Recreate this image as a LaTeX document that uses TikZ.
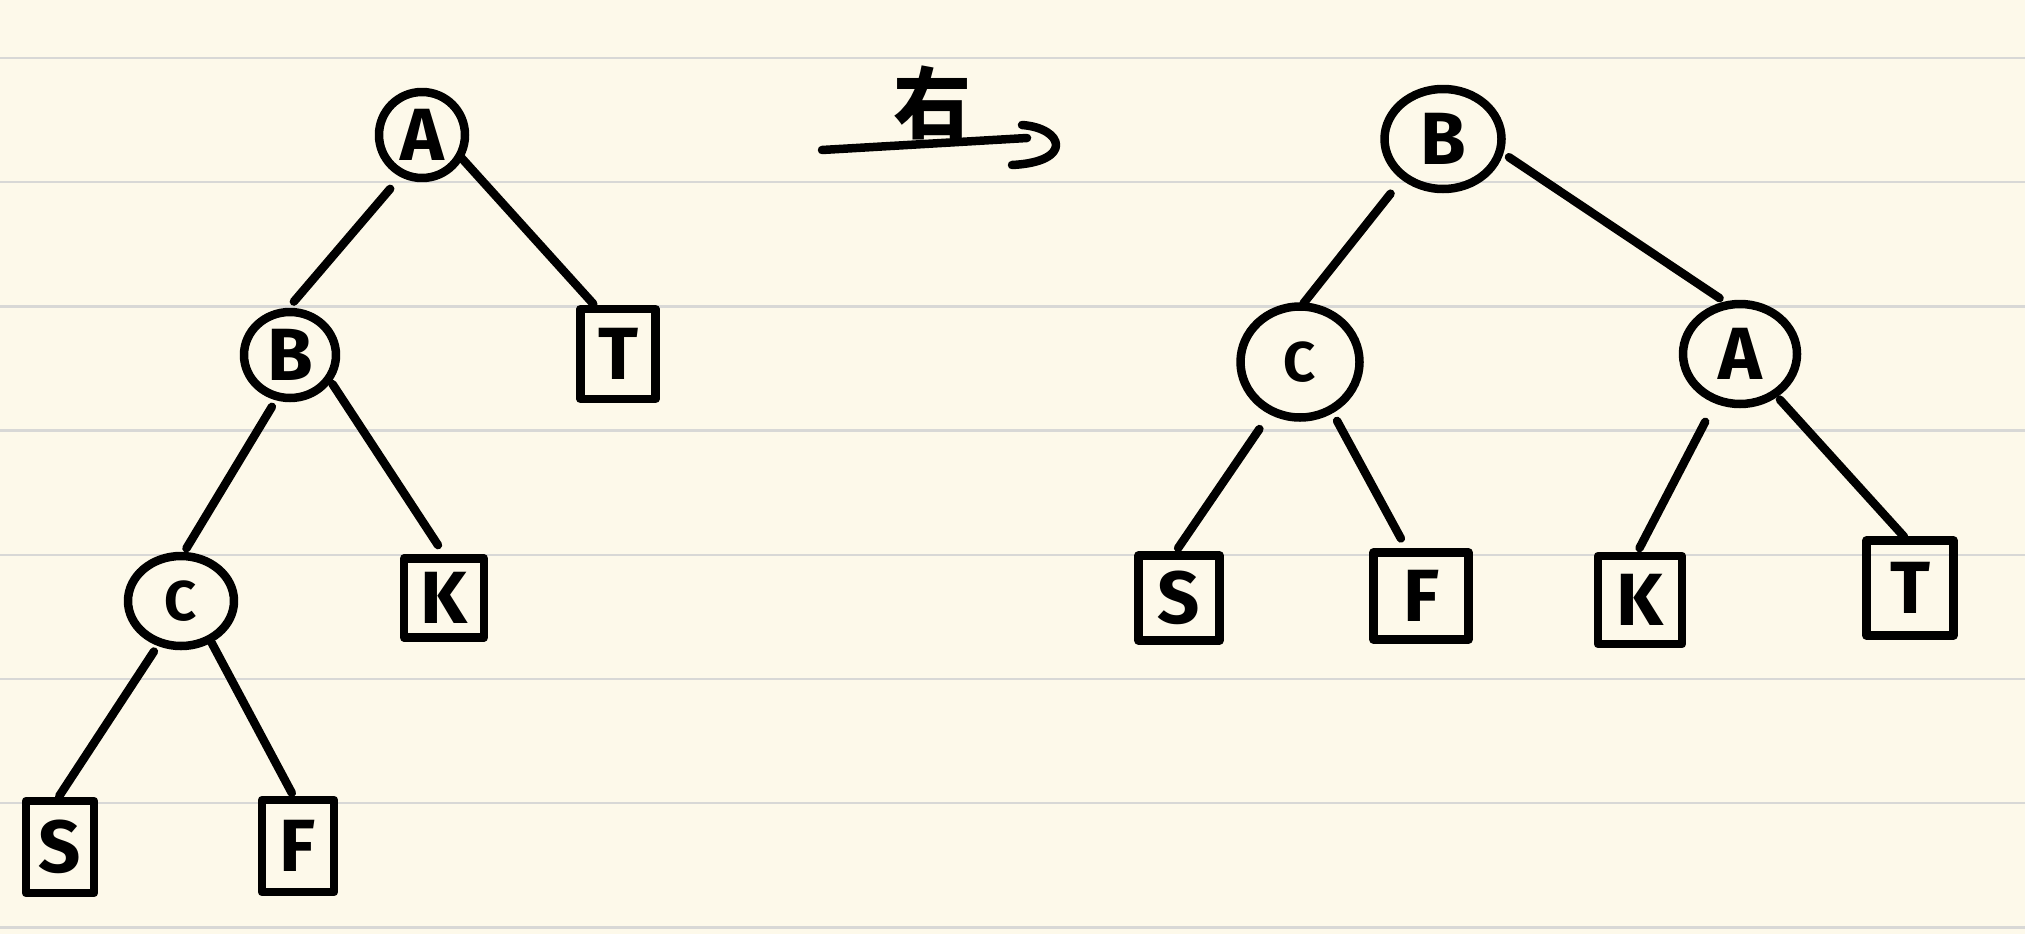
\documentclass[tikz,border=0pt]{standalone}
\usepackage{fontspec}
\newfontfamily\hand{Fira Sans}
\newfontfamily\cjk{Noto Sans CJK SC}
\usetikzlibrary{shapes.geometric}
\definecolor{paper}{HTML}{FDF9EA}
\definecolor{rulecol}{HTML}{D8D8D6}
\begin{document}
\begin{tikzpicture}[x=1pt,y=-1pt,
  ink/.style={line width=8.5pt, line cap=round, line join=round, draw=black},
  lettr/.style={font=\hand\bfseries\fontsize{74}{74}\selectfont},
  smallc/.style={font=\hand\bfseries\fontsize{56}{56}\selectfont},
  cnode/.style={ink, shape=ellipse, inner sep=0pt, outer sep=0pt, lettr},
  bnode/.style={ink, shape=rectangle, inner sep=0pt, outer sep=0pt, lettr},
  rulestyle/.style={draw=rulecol, line width=2.5pt}
]
\fill[paper] (0,0) rectangle (2025,934);
\useasboundingbox (0,0) rectangle (2025,934);
\foreach \yy in {58,182.2,306.4,430.6,554.8,679,803.2,927.4}
  \draw[rulestyle] (0,\yy) -- (2025,\yy);

% left tree
\node[cnode, minimum width=86pt, minimum height=86pt] (lA) at (422,135) {A};
\node[cnode, minimum width=92pt, minimum height=86pt] (lB) at (290,355) {B};
\node[cnode, minimum width=106pt, minimum height=90pt, smallc] (lC) at (181,601) {C};
\node[bnode, minimum width=75pt, minimum height=90pt] (lT) at (618,354) {T};
\node[bnode, minimum width=80pt, minimum height=79pt] (lK) at (444,598) {K};
\node[bnode, minimum width=68pt, minimum height=92pt] (lS) at (60,847) {S};
\node[bnode, minimum width=72pt, minimum height=92pt] (lF) at (298,846) {F};

\draw[ink, shorten <=20pt, shorten >=14pt] (lA.244) -- (lB.97);
\draw[ink, shorten <=3pt, shorten >=7pt] (lA.331) -- (lT.114);
\draw[ink, shorten <=12pt, shorten >=9pt] (lB.254) -- (lC.89);
\draw[ink, shorten <=7pt, shorten >=16pt] (lB.329) -- (lK.86);
\draw[ink, shorten <=11pt, shorten >=6pt] (lC.243) -- (lS.95);
\draw[ink, shorten <=5pt, shorten >=8pt] (lC.307) -- (lF.93);

% rotation arrow
\coordinate (ar0) at (822,150);
\coordinate (ar1) at (1027,138);
\coordinate (hk0) at (1022,125);
\coordinate (hk1) at (1012,165);
\draw[ink] (ar0) -- (ar1);
\draw[ink] (hk0) .. controls (1064,128) and (1074,162) .. (hk1);
\node[font=\cjk\bfseries\fontsize{78}{78}\selectfont] (lbl) at (932,103) {右};

% right tree
\node[cnode, minimum width=117pt, minimum height=100pt] (rB) at (1443,139) {B};
\node[cnode, minimum width=119pt, minimum height=111pt, smallc] (rC) at (1300,362) {C};
\node[cnode, minimum width=114pt, minimum height=100pt] (rA) at (1740,354) {A};
\node[bnode, minimum width=81pt, minimum height=85pt] (rS) at (1179,598) {S};
\node[bnode, minimum width=95pt, minimum height=87pt] (rF) at (1421,596) {F};
\node[bnode, minimum width=84pt, minimum height=88pt] (rK) at (1640,600) {K};
\node[bnode, minimum width=87pt, minimum height=95pt] (rT) at (1910,588) {T};

\draw[ink, shorten <=22pt, shorten >=4pt] (rB.224) -- (rC.89);
\draw[ink, shorten <=11pt, shorten >=12pt] (rB.348) -- (rA.102);
\draw[ink, shorten <=22pt, shorten >=9pt] (rC.240) -- (rS.98);
\draw[ink, shorten <=13pt, shorten >=16pt] (rC.303) -- (rF.106);
\draw[ink, shorten <=25pt, shorten >=9pt] (rA.243) -- (rK.96);
\draw[ink, shorten <=8pt, shorten >=5pt] (rA.311) -- (rT.93);
\end{tikzpicture}
\end{document}
